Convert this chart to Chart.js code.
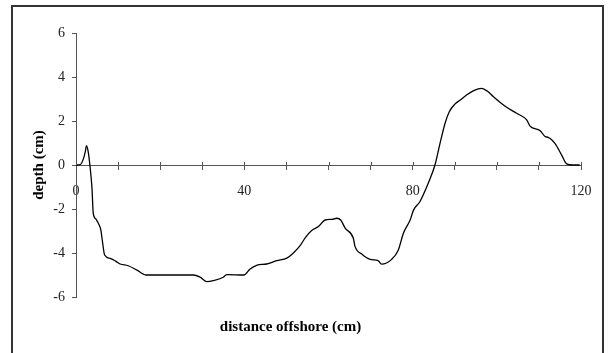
<!DOCTYPE html>
<html>
<head>
<meta charset="utf-8">
<script src="https://cdn.jsdelivr.net/npm/chart.js@4.4.1/dist/chart.umd.min.js"></script>
<style>
    body { margin: 0; background: #fff; }
    canvas { display: block; }
</style>
</head>
<body>
<canvas id="mainChart" width="612" height="353"></canvas>
<script>
// distance offshore (cm) and bed depth (cm)
const distance = [0, 1.0, 1.8, 2.2, 2.5, 2.9, 3.3, 3.8, 4.1, 4.7,
    5.3, 5.9, 6.3, 6.8, 8.1, 9.5, 10.5, 12.4, 14.4, 16.6,
    20, 24, 27.9, 29.5, 31.1, 32.6, 35, 35.8, 39.9, 41.3,
    42.9, 45.3, 47.7, 50.1, 51.6, 53.2, 54.5, 56, 57.6, 59.2,
    60.8, 62, 62.9, 64, 65.9, 66.3, 67.9, 69.9, 71.8, 72.6,
    75, 76.6, 77.8, 79.4, 80.2, 81.7, 83.7, 85.3, 86.5, 87.7,
    88.7, 90.1, 91.3, 92.8, 94.5, 96.4, 97.8, 99.2, 101.9, 104.7,
    107.1, 107.9, 110.3, 111.5, 112.2, 113.8, 115.4, 116.6, 118, 119.7];
const depth = [0, 0.02, 0.3, 0.6, 0.88, 0.6, 0, -1.06, -2.2, -2.45,
    -2.65, -2.95, -3.5, -4.09, -4.24, -4.38, -4.5, -4.58, -4.77, -5.0,
    -5.0, -5.0, -5.0, -5.1, -5.3, -5.26, -5.1, -4.98, -5.0, -4.74,
    -4.56, -4.5, -4.35, -4.23, -4.01, -3.68, -3.3, -2.98, -2.8, -2.5,
    -2.47, -2.42, -2.5, -2.88, -3.33, -3.7, -4.05, -4.29, -4.35, -4.51,
    -4.29, -3.86, -3.1, -2.5, -2.05, -1.67, -0.83, 0, 0.98, 1.9,
    2.42, 2.78, 2.95, 3.18, 3.38, 3.48, 3.35, 3.1, 2.68, 2.35,
    2.05, 1.77, 1.56, 1.29, 1.26, 0.98, 0.45, 0.05, 0, 0];

const xTicks = [0, 40, 80, 120];
const yTicks = [-6, -4, -2, 0, 2, 4, 6];

const serif = '"Liberation Serif", "Times New Roman", serif';
const axisColor = '#555';

// frame round the whole picture + tick marks above the x axis
const extras = {
    id: 'extras',
    beforeDraw(chart) {
        const ctx = chart.ctx;
        ctx.save();
        ctx.strokeStyle = '#333';
        ctx.lineWidth = 2;
        ctx.strokeRect(12, 6, 591, 400);
        ctx.restore();
    },
    afterDraw(chart) {
        const ctx = chart.ctx;
        const xs = chart.scales.x;
        const y0 = chart.scales.y.getPixelForValue(0);
        ctx.save();
        ctx.strokeStyle = axisColor;
        ctx.lineWidth = 1;
        xs.ticks.forEach(t => {
            const px = Math.round(xs.getPixelForValue(t.value)) + 0.5;
            ctx.beginPath();
            ctx.moveTo(px, y0 - 3);
            ctx.lineTo(px, y0);
            ctx.stroke();
        });
        ctx.restore();
    }
};

const ctx = document.getElementById('mainChart').getContext('2d');
new Chart(ctx, {
    type: 'line',
    data: {
        datasets: [{
            data: distance.map((d, i) => ({ x: d, y: depth[i] })),
            borderColor: '#000',
            borderWidth: 1.3,
            pointRadius: 0,
            fill: false,
            cubicInterpolationMode: 'monotone'
        }]
    },
    options: {
        responsive: false,
        animation: false,
        layout: { padding: { left: 0, right: 31, top: 33, bottom: 11 } },
        plugins: {
            legend: { display: false },
            tooltip: { enabled: false },
            title: {
                display: true,
                position: 'bottom',
                text: 'distance offshore (cm)',
                color: '#000',
                font: { family: serif, size: 15, weight: 'bold' },
                padding: { top: 21, bottom: 6 }
            }
        },
        scales: {
            x: {
                type: 'linear',
                position: { y: 0 },
                min: 0,
                max: 120,
                border: { color: axisColor, width: 1 },
                grid: { drawOnChartArea: false, drawTicks: true, tickLength: 4, color: axisColor },
                ticks: {
                    stepSize: 10,
                    autoSkip: false,
                    maxRotation: 0,
                    padding: 14,
                    color: '#222',
                    font: { family: serif, size: 14 },
                    callback: v => xTicks.includes(v) ? v : ''
                }
            },
            y: {
                type: 'linear',
                position: 'left',
                min: -6,
                max: 6,
                afterFit: s => { s.width = 76; },
                border: { color: axisColor, width: 1 },
                grid: { drawOnChartArea: false, drawTicks: true, tickLength: 4, color: axisColor },
                ticks: {
                    stepSize: 2,
                    padding: 7,
                    color: '#222',
                    font: { family: serif, size: 14 },
                    callback: v => yTicks.includes(v) ? v : ''
                },
                title: {
                    display: true,
                    text: 'depth (cm)',
                    color: '#000',
                    font: { family: serif, size: 15, weight: 'bold' },
                    padding: { top: 30, bottom: 0 }
                }
            }
        }
    },
    plugins: [extras]
});
</script>
</body>
</html>
